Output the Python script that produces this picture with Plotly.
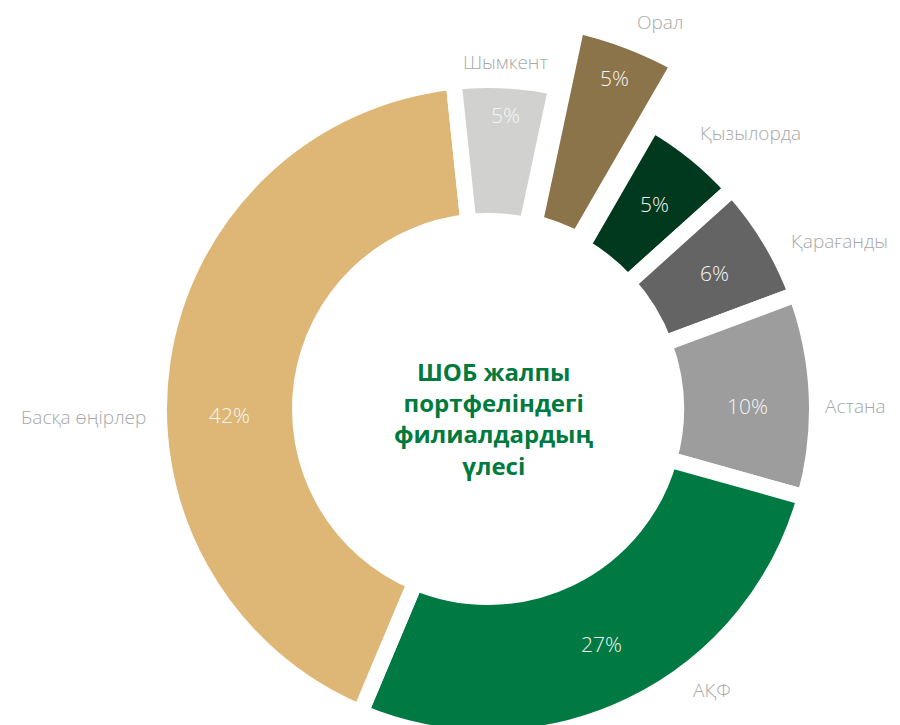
import plotly.graph_objects as go

# ---- data -------------------------------------------------------------
categories = ["Орал", "Қызылорда", "Қарағанды", "Астана", "АҚФ", "Басқа өңірлер", "Шымкент"]
shares = [5, 5, 6, 10, 27, 42, 5]
colors = ["#8B7449", "#00391D", "#646464", "#9D9D9D", "#007A42", "#DEB777", "#D1D1CF"]
center_title = "ШОБ жалпы<br>портфеліндегі<br>филиалдардың<br>үлесі"
highlight = "Орал"

# ---- layout constants (pixels, page coordinates) -----------------------
PAGE_OFF = 8            # default body margin of the html page
W, H = 892, 810
cx, cy = 488 - PAGE_OFF, 409 - PAGE_OFF
r_main, hole_main, gap_main = 329, 0.5714, 16
r_big, hole_big, gap_big = 401, 0.4613, 30

name_pos = [(660, 22), (750, 133), (839, 241), (855, 406), (712, 690), (83, 417), (505, 62)]
pct_pos = [(614, 78), (654, 204), (714, 273), (747, 406), (601, 644), (229, 415), (505, 115)]
title_pos = (494, 418)

CLEAR = "rgba(0,0,0,0)"


def px(x):
    return x / W


def py(y):
    return 1 - y / H


def page_x(x):
    return px(x - PAGE_OFF)


def page_y(y):
    return py(y - PAGE_OFF)


def dom(r):
    return dict(x=[px(cx - r), px(cx + r)], y=[py(cy + r), py(cy - r)])


is_hl = [c == highlight for c in categories]

fig = go.Figure()

# emphasised slice (larger outer radius), drawn first
fig.add_trace(go.Pie(
    labels=categories, values=shares, sort=False, direction="clockwise", rotation=12,
    hole=hole_big, domain=dom(r_big),
    marker=dict(colors=[c if h else CLEAR for c, h in zip(colors, is_hl)],
                line=dict(color=["white" if h else CLEAR for h in is_hl], width=gap_big)),
    textinfo="none", hoverinfo="label+percent", showlegend=False,
))

# main ring
fig.add_trace(go.Pie(
    labels=categories, values=shares, sort=False, direction="clockwise", rotation=12,
    hole=hole_main, domain=dom(r_main),
    marker=dict(colors=[CLEAR if h else c for c, h in zip(colors, is_hl)],
                line=dict(color=[CLEAR if h else "white" for h in is_hl], width=gap_main)),
    textinfo="none", hoverinfo="label+percent", showlegend=False,
))

annotations = []
for name, v, (nx, ny), (tx, ty) in zip(categories, shares, name_pos, pct_pos):
    annotations.append(dict(x=page_x(nx), y=page_y(ny), xref="paper", yref="paper", text=name,
                            showarrow=False, xanchor="center", yanchor="middle",
                            font=dict(family="Open Sans", size=19, color="#A8A8A8", weight=300)))
    annotations.append(dict(x=page_x(tx), y=page_y(ty), xref="paper", yref="paper", text=f"{v}%",
                            showarrow=False, xanchor="center", yanchor="middle",
                            font=dict(family="Open Sans", size=21, color="#F6F6F6", weight=300)))

annotations.append(dict(x=page_x(title_pos[0]), y=page_y(title_pos[1]), xref="paper", yref="paper",
                        text=center_title, showarrow=False, xanchor="center", yanchor="middle",
                        font=dict(family="Open Sans", size=24, color="#007A3D", weight="bold")))

fig.update_layout(
    width=W, height=H,
    margin=dict(l=0, r=0, t=0, b=0),
    paper_bgcolor="white", plot_bgcolor="white",
    annotations=annotations,
)

fig.write_html("out.html")
